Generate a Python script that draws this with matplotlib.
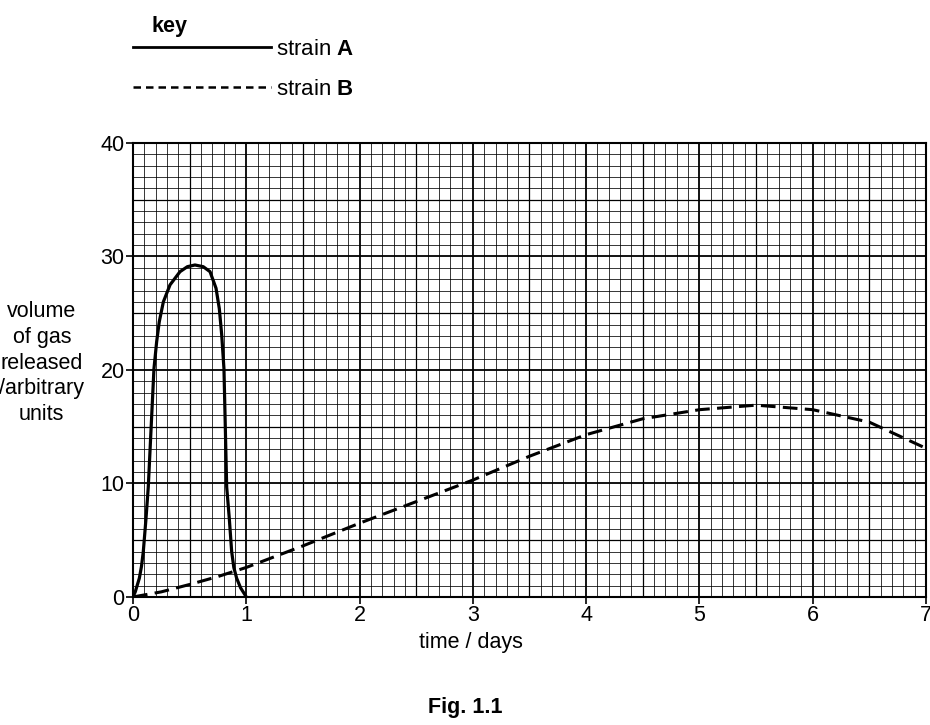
import matplotlib
matplotlib.use("Agg")
import matplotlib.pyplot as plt
from matplotlib.lines import Line2D
import numpy as np

plt.rcParams['font.family'] = ['Liberation Sans', 'DejaVu Sans']
plt.rcParams['mathtext.fontset'] = 'custom'
plt.rcParams['mathtext.rm'] = 'Liberation Sans'
plt.rcParams['mathtext.bf'] = 'Liberation Sans:bold'

# strain A readings (time in days, volume in arbitrary units)
time_a = [0, 0.02, 0.056, 0.075, 0.091, 0.115, 0.135, 0.16, 0.185, 0.209, 0.232,
          0.268, 0.327, 0.415, 0.48, 0.547, 0.62, 0.68, 0.733, 0.762, 0.783,
          0.803, 0.815, 0.827, 0.85, 0.871, 0.89, 0.915, 0.95, 0.988, 1.0]
vol_a = [0, 0.45, 1.65, 2.7, 4.0, 6.93, 9.7, 14.9, 20.1, 22.5, 24.25,
         26.0, 27.5, 28.66, 29.1, 29.25, 29.1, 28.66, 27.2, 25.4, 23.1,
         20.1, 14.9, 9.7, 6.93, 4.0, 2.6, 1.65, 0.8, 0.2, 0]

# strain B readings
time_b = [0, 0.25, 0.5, 0.75, 1, 1.5, 2, 2.5, 3, 3.5, 4, 4.5, 5, 5.5, 6, 6.5, 7]
vol_b = [0, 0.45, 1.1, 1.8, 2.6, 4.5, 6.5, 8.4, 10.3, 12.4, 14.3, 15.7, 16.5,
         16.9, 16.5, 15.4, 13.1]

x_ticks = [0, 1, 2, 3, 4, 5, 6, 7]
y_ticks = [0, 10, 20, 30, 40]

fig = plt.figure(figsize=(9.3, 7.25), dpi=100)
ax = fig.add_axes([0.143, 0.1766, 0.8527, 0.6262])

# graph paper grid
for xv in np.arange(0, 7.01, 0.1):
    r = round(xv * 10)
    if r % 10 == 0:
        lw = 1.3
    elif r % 5 == 0:
        lw = 0.9
    else:
        lw = 0.55
    ax.axvline(xv, color='black', lw=lw, zorder=1)
for yv in range(0, 41):
    if yv % 10 == 0:
        lw = 1.3
    elif yv % 5 == 0:
        lw = 0.9
    else:
        lw = 0.55
    ax.axhline(yv, color='black', lw=lw, zorder=1)

ax.plot(time_a, vol_a, color='black', lw=2.3, zorder=3,
        solid_joinstyle='round', solid_capstyle='round')
ax.plot(time_b, vol_b, color='black', lw=2.2, dashes=(4.8, 2.4), zorder=3)

ax.set_xlim(0, 7)
ax.set_ylim(0, 40)
ax.set_xticks(x_ticks)
ax.set_yticks(y_ticks)
ax.tick_params(labelsize=15.5, length=5, width=1.2, pad=1)
for s in ax.spines.values():
    s.set_linewidth(1.5)

ax.set_xlabel('time / days', fontsize=15.5)
ax.xaxis.set_label_coords(0.426, -0.077)
ax.set_ylabel('volume\nof gas\nreleased\n/arbitrary\nunits', fontsize=15.5,
              rotation=0, ha='center', va='center', linespacing=1.3)
ax.yaxis.set_label_coords(-0.115, 0.515)

# key
fig.text(0.1624, 0.9635, 'key', fontsize=15.5, fontweight='bold', ha='left', va='center')
handles = [Line2D([], [], color='black', lw=2.0),
           Line2D([], [], color='black', lw=1.8, dashes=(3, 2))]
fig.legend(handles, ['strain $\\mathbf{A}$', 'strain $\\mathbf{B}$'],
           loc='upper left', bbox_to_anchor=(0.143, 0.946), frameon=False,
           fontsize=16, handlelength=6.2, handletextpad=0.25, labelspacing=0.85,
           borderaxespad=0, borderpad=0)

fig.text(0.5, 0.024, 'Fig. 1.1', fontsize=15.5, fontweight='bold', ha='center', va='center')

plt.savefig('out.png', dpi=100)
